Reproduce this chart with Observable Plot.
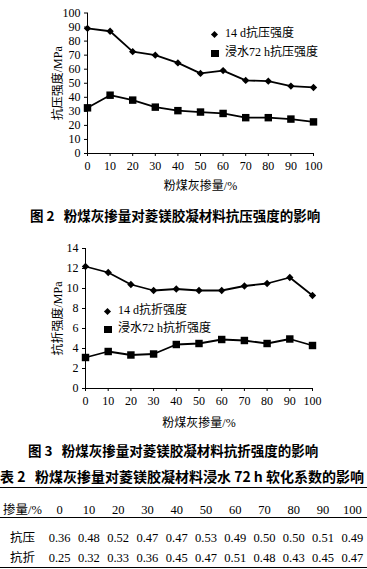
<!DOCTYPE html>
<html><head><meta charset="utf-8">
<script src="https://cdn.jsdelivr.net/npm/d3@7"></script>
<script src="https://cdn.jsdelivr.net/npm/@observablehq/plot@0.6"></script>
<style>
body{margin:0;background:#fff;width:367px;height:569px;position:relative;overflow:hidden;font-family:"Liberation Serif","Noto Sans CJK SC",serif;color:#000}
.abs{position:absolute}
.cap{font-family:"Noto Sans CJK SC",sans-serif;font-weight:bold;font-size:13.5px;white-space:nowrap;line-height:16px}
.leg{font-family:"Liberation Serif","Noto Sans CJK SC",serif;font-size:12px;white-space:nowrap;line-height:14px}
.sym{display:inline-block;background:#000;vertical-align:middle}
table{border-collapse:collapse;table-layout:fixed;width:367px;font-size:12.5px;font-family:"Liberation Serif","Noto Sans CJK SC",serif}
td{text-align:center;padding:0;white-space:nowrap;box-sizing:border-box;line-height:14px;vertical-align:top}
</style></head><body>
<div id="c1" class="abs" style="left:0;top:0"></div>
<div class="abs cap" style="left:30px;top:207px">图 2&nbsp;&nbsp;&nbsp;粉煤灰掺量对菱镁胶凝材料抗压强度的影响</div>
<div id="c2" class="abs" style="left:0;top:228px"></div>
<div class="abs cap" style="left:28px;top:442px">图 3&nbsp;&nbsp;&nbsp;粉煤灰掺量对菱镁胶凝材料抗折强度的影响</div>
<div class="abs cap" style="left:0;top:468px;font-size:14px">表 2&nbsp;&nbsp;&nbsp;粉煤灰掺量对菱镁胶凝材料浸水 72 h 软化系数的影响</div>
<div id="tbl" class="abs" style="left:0;top:487px"></div>
<script>
// Data
const flyAsh = [0, 10, 20, 30, 40, 50, 60, 70, 80, 90, 100];
const comp14d = [89, 87, 72.5, 70, 64.5, 57, 59, 52, 51.5, 48, 47];
const compSoak = [32.5, 41.5, 38, 33, 30.5, 29.5, 28.5, 25.5, 25.5, 24.5, 22.5];
const flex14d = [12.2, 11.6, 10.4, 9.8, 9.95, 9.8, 9.8, 10.25, 10.5, 11.1, 9.3];
const flexSoak = [3.1, 3.7, 3.35, 3.45, 4.4, 4.5, 4.9, 4.8, 4.5, 4.95, 4.3];
const compTicks = [0, 10, 20, 30, 40, 50, 60, 70, 80, 90, 100];
const flexTicks = [0, 2, 4, 6, 8, 10, 12, 14];
const xTicks = [0, 10, 20, 30, 40, 50, 60, 70, 80, 90, 100];
const tableHeader = ["掺量/%", "0", "10", "20", "30", "40", "50", "60", "70", "80", "90", "100"];
const softComp = ["0.36", "0.48", "0.52", "0.47", "0.47", "0.53", "0.49", "0.50", "0.50", "0.51", "0.49"];
const softFlex = ["0.25", "0.32", "0.33", "0.36", "0.45", "0.47", "0.51", "0.48", "0.43", "0.45", "0.47"];
const rowLabels = ["抗压", "抗折"];
const legendComp = ["14 d抗压强度", "浸水72 h抗压强度"];
const legendFlex = ["14 d抗折强度", "浸水72 h抗折强度"];

const toRows = (ys) => flyAsh.map((x, i) => ({x, y: ys[i]}));

function chart({a, b, yDomain, yTicks, yLabel, ml, mr, mt, mb, h, xlo, ylo}) {
  const A = toRows(a), B = toRows(b);
  return Plot.plot({
    width: 367, height: h,
    marginLeft: ml, marginRight: mr, marginTop: mt, marginBottom: mb,
    style: {fontFamily: '"Liberation Serif","Noto Sans CJK SC",serif', fontSize: "12px", background: "#fff", color: "#000"},
    x: {domain: [0, 100]},
    y: {domain: yDomain},
    marks: [
      Plot.ruleX([0], {stroke: "#000", strokeWidth: 1}),
      Plot.ruleY([0], {stroke: "#000", strokeWidth: 1}),
      Plot.axisX({ticks: xTicks, tickSize: 3, tickPadding: 5, fontSize: 12, label: "粉煤灰掺量/%", labelAnchor: "center", labelOffset: xlo, labelArrow: "none"}),
      Plot.axisY({ticks: yTicks, tickSize: 3, tickPadding: 4, fontSize: 12, label: yLabel, labelAnchor: "center", labelOffset: ylo, labelArrow: "none"}),
      Plot.line(A, {x: "x", y: "y", stroke: "#000", strokeWidth: 1.8}),
      Plot.line(B, {x: "x", y: "y", stroke: "#000", strokeWidth: 1.8}),
      Plot.dot(A, {x: "x", y: "y", symbol: "diamond2", r: 3.3, fill: "#000", stroke: "none"}),
      Plot.dot(B, {x: "x", y: "y", symbol: "square", r: 4.2, fill: "#000", stroke: "none"})
    ]
  });
}

document.getElementById("c1").append(chart({a: comp14d, b: compSoak, yDomain: [0, 100], yTicks: compTicks, yLabel: "抗压强度/MPa", ml: 87, mr: 54, mt: 12.5, mb: 42, h: 195, xlo: 36, ylo: 34}));
document.getElementById("c2").append(chart({a: flex14d, b: flexSoak, yDomain: [0, 14], yTicks: flexTicks, yLabel: "抗折强度/MPa", ml: 85, mr: 55, mt: 20, mb: 40, h: 200, xlo: 38, ylo: 32}));

function legend(labels, left, top, gap) {
  const d = document.createElement("div");
  d.className = "abs leg";
  d.style.left = left + "px"; d.style.top = top + "px";
  const s1 = '<span class="sym" style="width:5px;height:5px;transform:rotate(45deg);margin:0 8px 0 1px"></span>';
  const s2 = '<span class="sym" style="width:8px;height:7px;margin:0 6px 0 0"></span>';
  d.innerHTML = `<div>${s1}${labels[0]}</div><div style="margin-top:${gap}px">${s2}${labels[1]}</div>`;
  document.body.append(d);
}
legend(legendComp, 211, 26, 5);
legend(legendFlex, 104, 303, 4);

// table
const tb = document.createElement("table");
let html = '<colgroup><col style="width:45px">' + flyAsh.map(() => '<col>').join("") + '</colgroup>';
const hd = 'style="height:28px;padding-top:15px"';
const r1 = 'style="height:28px;padding-top:13px"';
const r2 = 'style="height:22px;padding-top:5px"';
html += '<tr style="border-top:1.6px solid #000;border-bottom:0.8px solid #000">' + tableHeader.map(v => `<td ${hd}>${v}</td>`).join("") + '</tr>';
html += `<tr><td ${r1}>${rowLabels[0]}</td>` + softComp.map(v => `<td ${r1}>${v}</td>`).join("") + '</tr>';
html += `<tr style="border-bottom:1.6px solid #000"><td ${r2}>${rowLabels[1]}</td>` + softFlex.map(v => `<td ${r2}>${v}</td>`).join("") + '</tr>';
tb.innerHTML = html;
document.getElementById("tbl").append(tb);
</script>
</body></html>
